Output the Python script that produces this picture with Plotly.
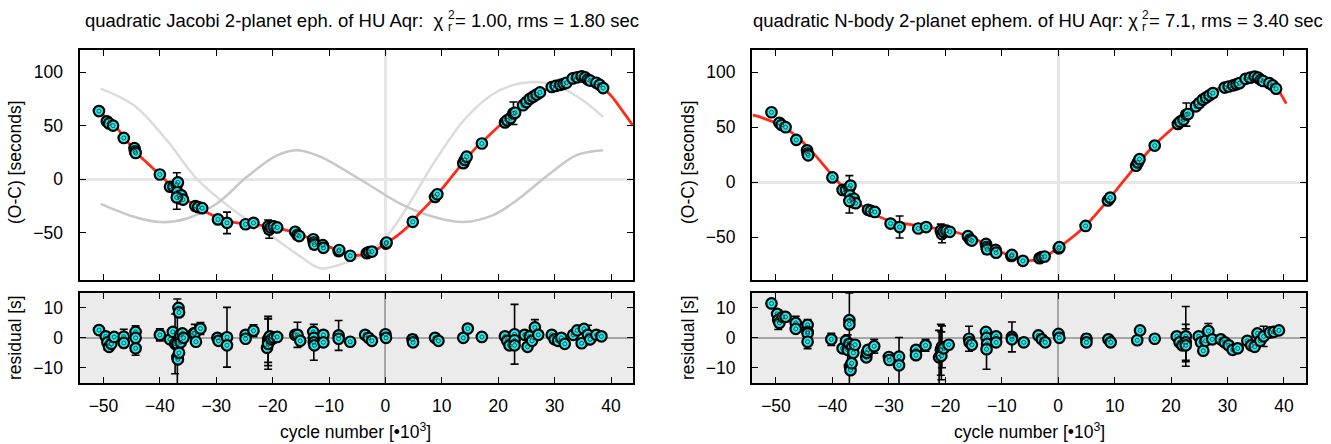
import plotly.graph_objects as go

# ---------------- data (cycle numbers in units of 10^3) ----------------
oc_k = [-50.8, -49.4, -49.0, -48.3, -46.4, -44.5, -44.4, -44.3, -40.0,
        -38.2, -37.6, -37.0, -36.8, -36.9, -36.6, -36.4, -36.2, -35.9, -37.0,
        -33.7, -33.2, -32.5, -29.7, -28.1, -24.8, -23.4,
        -20.8, -20.6, -20.3, -19.8, -19.2,
        -16.0, -15.6, -15.3, -12.8, -12.7, -12.6, -11.1, -11.0, -8.3, -8.2, -6.25,
        -3.3, -2.9, -2.4, 0.1, 0.2, 4.85, 8.8, 9.2, 13.8, 14.1, 14.4, 17.1,
        21.2, 21.6, 22.2, 22.7, 23.0, 24.4, 25.0, 25.6, 26.2, 26.8, 27.4,
        29.5, 30.2, 31.0, 31.6, 32.1, 33.2, 34.0, 34.8, 35.4, 35.9, 36.3,
        37.4, 38.0, 38.6]
oc_v = [63.6, 54.0, 52.0, 50.0, 38.5, 29.0, 26.0, 24.5, 4.4,
        -7.0, -7.0, -5.0, -3.0, -12.0, -16.0, -18.0, -15.0, -19.0, -17.0,
        -25.0, -26.0, -27.0, -37.5, -40.7, -42.0, -40.7,
        -44.0, -47.0, -45.0, -44.0, -45.0,
        -49.0, -52.0, -53.0, -56.0, -59.0, -61.0, -61.5, -64.0, -67.0, -66.0, -71.4,
        -69.0, -68.0, -67.5, -60.0, -59.0, -39.7, -16.5, -14.0, 15.0, 18.0, 21.0, 33.3,
        53.0, 55.0, 57.0, 61.5, 62.0, 69.0, 72.0, 75.0, 77.0, 79.0, 81.0,
        86.0, 87.0, 88.0, 89.0, 90.0, 94.0, 95.0, 96.0, 95.0, 93.0, 92.0,
        90.0, 88.0, 85.0]
oc_e = [0, 0, 0, 0, 0, 0, 0, 0, 0,
        0, 0, 11, 0, 0, 0, 0, 0, 0, 11,
        0, 0, 0, 0, 10, 0, 0,
        6, 8, 0, 0, 0,
        0, 3, 0, 0, 6, 0, 0, 0, 4, 0, 0,
        0, 0, 0, 0, 0, 0, 0, 0, 0, 0, 0, 0,
        0, 0, 0, 10.5, 0, 0, 0, 0, 0, 0, 0,
        0, 0, 0, 0, 0, 0, 0, 0, 0, 0, 0,
        0, 0, 0]

# model curves
jac_model_k = [-50.8, -48, -46, -44, -42, -40, -38, -36, -34, -32, -30, -28, -26, -24,
               -22, -20, -18, -16, -14, -12, -10, -8, -6, -4, -2, 0, 2, 4, 6, 8, 10,
               12, 14, 16, 18, 20, 22, 24, 26, 28, 30, 32, 34, 36, 38, 40, 42, 43.9]
jac_model_v = [63, 50, 37, 24, 14, 4, -6, -16, -24, -30, -35, -39, -41, -42,
               -43, -45, -47, -50, -54, -58, -63, -67, -70.5, -70.5, -67, -60, -53, -44, -32, -21, -9,
               4, 17, 29, 39, 49, 58, 67, 75, 82, 88, 92, 95, 95, 88, 78, 64, 50]

planet1_k = [-50.5, -44.6, -38.7, -33.4, -26.9, -21.0, -15.1, -11.6, -8.3, -3.3, 0.1,
             3.5, 8.5, 14.4, 20.3, 26.2, 30.9, 35.0, 38.6]
planet1_v = [84.5, 69, 36, 0, -29, -50, -72, -83, -80, -69, -54,
             -29, 14.6, 58, 83, 90.6, 86, 73.6, 58]

planet2_k = [-50.5, -44.6, -39.9, -35.2, -29.9, -24.6, -19.3, -15.5, -11.6, -9.2, -3.3,
             2.6, 8.5, 13.8, 19.1, 23.3, 29.2, 33.9, 38.6]
planet2_v = [-23, -35, -40, -36.6, -22.7, 2, 22, 27, 21, 14.6, -4,
             -22.7, -35, -40, -33.5, -19.6, 5.3, 22.4, 27]

nb_model_k = [-54.1, -53.3, -49.2, -46.2, -43.3, -40.3, -37.3, -33.8, -30.2, -25.5, -19.6,
              -15.5, -10.5, -6.0, -3.1, -0.1, 4.6, 8.8, 14.1, 17.0, 21.2, 25.3, 28.8,
              33.0, 35.9, 38.3, 40.4]
nb_model_v = [61, 60, 51.8, 41, 26, 8, -9, -25.5, -34.5, -39, -43.6,
              -49.7, -62.5, -71, -69.5, -60, -40.6, -16.4, 17, 33.6, 53.4, 73, 86.6,
              95.7, 95.7, 88, 71.5]

# residuals, Jacobi fit
resL_k = [-50.8, -49.6, -49.3, -49.0, -48.6, -48.1, -46.4, -46.4, -44.3, -44.3, -44.3, -40.0,
          -38.2, -37.7, -37.3, -36.9, -36.9, -36.8, -36.6, -36.7, -36.6, -36.4, -36.3, -36.0, -35.8,
          -34.0, -33.8, -33.6, -32.8, -29.8, -29.6, -28.1, -28.1, -24.8, -24.8, -23.4,
          -21.0, -20.8, -20.8, -20.8, -20.5, -20.2, -19.8, -19.2, -16.0, -15.6, -15.1,
          -12.8, -12.7, -12.7, -12.6, -11.0, -11.0, -8.3, -8.3, -6.25, -3.6, -3.0, -2.4, 0.0, 0.1,
          4.8, 4.9, 8.8, 9.4, 13.8, 14.6, 17.1, 21.2, 21.6, 22.0, 22.9, 22.9, 22.9,
          24.7, 25.2, 25.6, 26.0, 26.5, 27.1, 29.5, 30.0, 30.6, 31.2, 31.8,
          33.3, 34.0, 34.8, 35.2, 35.9, 36.3, 37.4, 38.3]
resL_v = [2.6, 0.5, -1.5, -3.0, -2.0, 0.3, 0.4, -1.7, 2.0, 0.0, -3.5, 1.0,
          -0.5, 2.0, -2.0, -2.0, -6.5, -7.2, -5.0, 10.0, 8.5, 1.0, -1.5, 1.5, 0.0,
          1.5, 1.5, -1.3, 3.1, 0.0, -1.0, 0.2, -2.5, 1.0, -0.3, 2.4,
          -3.3, -0.5, -1.5, -2.0, 0.5, -0.5, 0.0, 0.3, 1.0, 1.0, -1.0,
          2.0, 0.0, -1.5, -2.5, 1.0, -1.5, 0.8, -0.3, -1.3, 1.0, 0.0, -1.0, 1.2, 0.0,
          -0.5, -1.5, 0.0, -1.0, 0.0, 3.1, 0.3, 0.5, -1.0, -2.5, 1.2, -0.8, -2.5,
          1.0, -3.0, 0.5, -1.0, 3.5, 1.0, 1.0, -0.5, -1.0, 0.0, -2.0,
          1.0, 2.5, -1.8, 3.0, 1.0, -0.5, 1.0, 0.5]
resL_e = [0, 0, 2.5, 0, 0, 0, 2.5, 0, 2.0, 0, 2.3, 2.0,
          0, 0, 10, 15, 0, 0, 0, 0, 0, 0, 0, 0, 0,
          0, 3.0, 0, 2.0, 0, 0, 10, 0, 0, 0, 2.0,
          0, 7.7, 7.8, 8.5, 0, 0, 0, 0, 0, 4.2, 0,
          0, 0, 6.0, 0, 0, 0, 5.0, 0, 0, 0, 0, 0, 0, 0,
          1.5, 0, 0, 0, 0, 0, 0, 0, 0, 0, 10, 0, 0,
          0, 0, 0, 0, 2.6, 0, 0, 0, 0, 0, 0,
          0, 0, 0, 0, 3.2, 0, 0, 0]

# residuals, N-body fit
resR_k = [-50.8, -49.8, -49.6, -49.4, -48.8, -48.3, -46.5, -46.5, -44.4, -44.4, -44.4, -44.4, -40.2,
          -38.2, -37.6, -37.3, -37.0, -37.0, -37.0, -36.9, -36.8, -36.6, -36.5, -36.3, -36.0,
          -34.0, -33.9, -33.7, -32.6, -30.0, -29.9, -28.2, -28.2, -25.2, -25.2, -23.5,
          -21.1, -20.8, -20.7, -20.6, -20.3, -19.4, -15.8, -15.7, -15.3,
          -12.8, -12.7, -12.6, -12.7, -11.0, -11.0, -8.2, -8.2, -6.1, -3.5, -2.9, -2.3, 0.05, 0.2,
          5.0, 5.0, 8.9, 9.3, 14.0, 14.5, 17.1, 21.0, 21.5, 22.0, 22.6, 22.6, 22.6,
          24.9, 25.3, 25.7, 26.1, 26.6, 27.3, 28.8, 29.5, 30.2, 30.9, 31.8,
          33.5, 34.2, 34.8, 35.3, 35.8, 36.4, 37.5, 38.2, 39.1]
resR_v = [11.5, 8.0, 6.0, 5.0, 7.0, 7.0, 5.0, 3.0, 4.3, 2.0, 1.5, -1.3, -0.5,
          -3.5, -1.0, -4.0, 5.9, 4.5, -2.0, -9.6, -10.8, -8.5, -3.0, -5.0, -2.3,
          -6.5, -5.0, -4.0, -2.8, -6.4, -7.4, -6.3, -9.2, -4.0, -5.8, -2.5,
          -6.5, -4.0, -6.0, -3.0, -3.5, -2.3, -0.3, -1.5, -2.3,
          2.0, 0.0, -2.0, -3.8, 0.5, -1.5, 0.3, -0.5, -1.5, 0.8, -0.5, -1.5, 1.3, 0.0,
          -0.3, -1.5, -0.5, -1.5, -0.8, 2.5, -0.3, 0.5, -1.5, -2.5, 0.5, -1.5, -2.5,
          0.5, -1.5, -4.3, -1.0, 2.3, -0.5, -0.5, -1.5, -2.5, -4.0, -3.5,
          -1.0, -2.5, -3.0, 1.5, -1.0, 0.5, 1.8, 2.0, 2.5]
resR_e = [0, 0, 3.2, 0, 0, 0, 2.2, 0, 1.8, 0, 0, 2.3, 2.0,
          0, 0, 5.0, 0, 0, 17, 0, 0, 0, 0, 0, 0,
          0, 0, 0, 2.3, 0, 0, 0, 9.3, 0, 0, 2.0,
          9.0, 8.5, 8.0, 7.0, 0, 0, 4.2, 0, 0,
          0, 0, 0, 6.7, 0, 0, 5.0, 0, 0, 0, 0, 0, 0, 0,
          1.5, 0, 0, 0, 0, 0, 0, 0, 0, 0, 10.0, 6.0, 5.5,
          0, 0, 0, 0, 2.5, 0, 0, 0, 0, 0, 0,
          0, 0, 0, 0, 0, 3.4, 0, 0]

x_ticks = [-50, -40, -30, -20, -10, 0, 10, 20, 30, 40]
oc_ticks = [-50, 0, 50, 100]
res_ticks = [-10, 0, 10]

titles = ["quadratic Jacobi 2-planet eph. of HU Aqr:  χ", "= 1.00, rms = 1.80 sec",
          "quadratic N-body 2-planet ephem. of HU Aqr: χ", "= 7.1, rms = 3.40 sec"]

# ---------------- styling ----------------
W, H = 1331, 444
FONT = "Liberation Sans, Arial, Helvetica, sans-serif"
CYAN = "#26ebeb"
RED = "#ff2a1a"

def px(x):
    return x / W

def py(y):
    return 1 - y / H

fig = go.Figure()

def add_points(k, v, e, xa, ya):
    ev = [ee if ee > 0 else None for ee in e]
    fig.add_trace(go.Scatter(
        x=k, y=v, xaxis=xa, yaxis=ya, mode="markers",
        error_y=dict(type="data", array=ev, visible=True, color="black",
                     thickness=1.6, width=4),
        marker=dict(size=10.5, color=CYAN, line=dict(color="black", width=2.2)),
        hoverinfo="skip", showlegend=False))
    fig.add_trace(go.Scatter(
        x=k, y=v, xaxis=xa, yaxis=ya, mode="markers",
        marker=dict(size=4, symbol="circle-open", color="#1a3a3a", line=dict(width=0.8)),
        hoverinfo="skip", showlegend=False))

# left top
fig.add_trace(go.Scatter(x=planet1_k, y=planet1_v, xaxis="x", yaxis="y", mode="lines",
                         line=dict(color="#dcdcdc", width=2.5, shape="spline"),
                         hoverinfo="skip", showlegend=False))
fig.add_trace(go.Scatter(x=planet2_k, y=planet2_v, xaxis="x", yaxis="y", mode="lines",
                         line=dict(color="#c8c8c8", width=2.5, shape="spline"),
                         hoverinfo="skip", showlegend=False))
fig.add_trace(go.Scatter(x=jac_model_k, y=jac_model_v, xaxis="x", yaxis="y", mode="lines",
                         line=dict(color=RED, width=2.8, shape="spline"),
                         hoverinfo="skip", showlegend=False))
add_points(oc_k, oc_v, oc_e, "x", "y")
# left residual
add_points(resL_k, resL_v, resL_e, "x2", "y2")
# right top
fig.add_trace(go.Scatter(x=nb_model_k, y=nb_model_v, xaxis="x3", yaxis="y3", mode="lines",
                         line=dict(color=RED, width=2.8, shape="spline"),
                         hoverinfo="skip", showlegend=False))
add_points(oc_k, oc_v, oc_e, "x3", "y3")
# right residual
add_points(resR_k, resR_v, resR_e, "x4", "y4")

XL = [px(79.5), px(633)]
XR = [px(752), px(1306)]
YT = [py(280), py(49.5)]
YB = [py(383.3), py(293)]
XRANGE = [-54.25, 43.9]

common = dict(showline=True, linecolor="black", linewidth=2, mirror="ticks",
              ticks="inside", ticklen=6, tickwidth=1.2, tickcolor="black",
              showgrid=False, tickfont=dict(family=FONT, size=17.5, color="black"),
              fixedrange=True)

layout = dict(
    width=W, height=H, margin=dict(l=0, r=0, t=0, b=0),
    paper_bgcolor="white", plot_bgcolor="white", showlegend=False,
    xaxis=dict(domain=XL, range=XRANGE, anchor="y", tickvals=x_ticks, showticklabels=False,
               zeroline=True, zerolinecolor="#e6e6e6", zerolinewidth=2.5, **common),
    yaxis=dict(domain=YT, range=[-94, 121], anchor="x", tickvals=oc_ticks,
               zeroline=True, zerolinecolor="#e6e6e6", zerolinewidth=2.5,
               ticklabelstandoff=11, **common),
    xaxis2=dict(domain=XL, range=XRANGE, anchor="y2", tickvals=x_ticks,
                zeroline=True, zerolinecolor="#a6a6a6", zerolinewidth=1.6,
                ticklabelstandoff=6, **common),
    yaxis2=dict(domain=YB, range=[-15.2, 15], anchor="x2", tickvals=res_ticks,
                zeroline=True, zerolinecolor="#a6a6a6", zerolinewidth=1.6,
                ticklabelstandoff=11, **common),
    xaxis3=dict(domain=XR, range=XRANGE, anchor="y3", tickvals=x_ticks, showticklabels=False,
                zeroline=True, zerolinecolor="#e6e6e6", zerolinewidth=2.5, **common),
    yaxis3=dict(domain=YT, range=[-88.8, 120.6], anchor="x3", tickvals=oc_ticks,
                zeroline=True, zerolinecolor="#e6e6e6", zerolinewidth=2.5,
                ticklabelstandoff=11, **common),
    xaxis4=dict(domain=XR, range=XRANGE, anchor="y4", tickvals=x_ticks,
                zeroline=True, zerolinecolor="#a6a6a6", zerolinewidth=1.6,
                ticklabelstandoff=6, **common),
    yaxis4=dict(domain=YB, range=[-15.2, 15], anchor="x4", tickvals=res_ticks,
                zeroline=True, zerolinecolor="#a6a6a6", zerolinewidth=1.6,
                ticklabelstandoff=11, **common),
)
fig.update_layout(**layout)

# grey background of the residual panels
for xa, ya in (("x2", "y2"), ("x4", "y4")):
    fig.add_shape(type="rect", xref=f"{xa} domain", yref=f"{ya} domain",
                  x0=0, x1=1, y0=0, y1=1, fillcolor="#ebebeb", line_width=0, layer="below")

tf = dict(family=FONT, size=18.5, color="black")
sf = dict(family=FONT, size=12, color="black")
af = dict(family=FONT, size=17.5, color="black")
ann = []
# titles with stacked sub/superscript after chi
for (txt1, txt2, xchi, y0) in ((titles[0], titles[1], 446, 21), (titles[2], titles[3], 1140, 21)):
    ann.append(dict(text=txt1, x=px(xchi), y=py(y0), xref="paper", yref="paper",
                    xanchor="right", yanchor="middle", showarrow=False, font=tf))
    ann.append(dict(text="2", x=px(xchi), y=py(y0 - 6), xref="paper", yref="paper",
                    xanchor="left", yanchor="middle", showarrow=False, font=sf))
    ann.append(dict(text="r", x=px(xchi), y=py(y0 + 6), xref="paper", yref="paper",
                    xanchor="left", yanchor="middle", showarrow=False, font=sf))
    ann.append(dict(text=txt2, x=px(xchi + 7), y=py(y0), xref="paper", yref="paper",
                    xanchor="left", yanchor="middle", showarrow=False, font=tf))
# axis titles
for xc in (15, 688):
    ann.append(dict(text="(O-C) [seconds]", x=px(xc), y=py(162), xref="paper", yref="paper",
                    textangle=-90, xanchor="center", yanchor="middle", showarrow=False, font=af))
    ann.append(dict(text="residual [s]", x=px(xc), y=py(338), xref="paper", yref="paper",
                    textangle=-90, xanchor="center", yanchor="middle", showarrow=False, font=af))
for xc in (356, 1029):
    ann.append(dict(text="cycle number [•10<sup>3</sup>]", x=px(xc), y=py(431), xref="paper",
                    yref="paper", xanchor="center", yanchor="middle", showarrow=False, font=af))
fig.update_layout(annotations=ann)

fig.write_html("out.html", config={"displayModeBar": False},
               post_script="document.body.style.margin='0';document.body.style.overflow='hidden';")
